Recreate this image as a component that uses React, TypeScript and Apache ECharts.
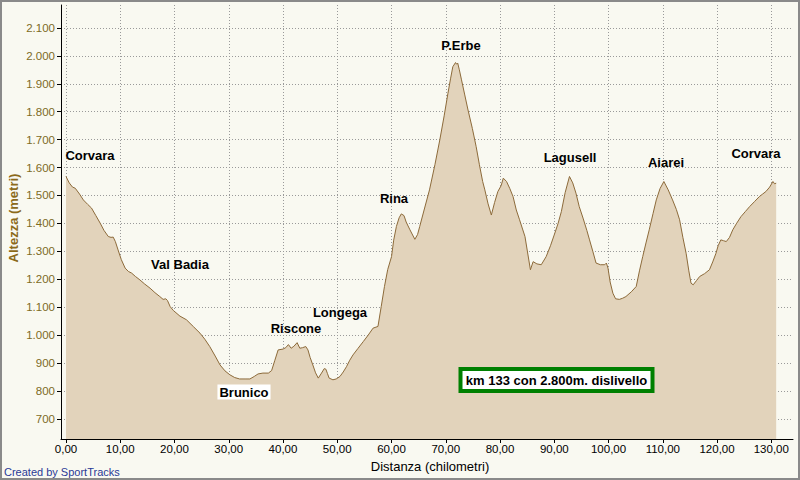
import React, { useEffect, useRef } from "react";
import * as echarts from "echarts";

const distanceKm: number[] = [
  0.0, 0.6, 1.2, 1.7, 2.5, 3.2, 4.0, 4.7, 5.5, 6.3, 7.0, 7.8, 8.3, 8.7, 9.1, 9.6, 10.2, 10.9, 11.5, 12.1,
  12.8, 13.6, 14.5, 15.5, 16.4, 17.3, 17.9, 18.4, 18.7, 19.2, 19.8, 21.0, 22.2, 23.5, 24.7, 25.6, 26.5, 27.5,
  28.4, 29.3, 30.2, 31.1, 32.0, 33.0, 33.9, 34.7, 35.4, 36.3, 37.3, 37.9, 38.5, 39.1, 40.0, 40.5, 41.0, 41.5,
  42.0, 42.6, 43.1, 43.6, 44.2, 44.6, 45.0, 45.5, 46.0, 46.5, 47.1, 47.6, 47.9, 48.2, 48.5, 49.2, 49.8, 50.5,
  51.1, 51.7, 52.3, 52.9, 53.8, 54.8, 55.7, 56.6, 57.5, 58.1, 58.7, 59.3, 60.0, 60.4, 60.9, 61.4, 61.8, 62.3,
  62.7, 63.4, 64.3, 64.8, 65.2, 66.1, 67.0, 68.0, 68.9, 69.7, 70.4, 70.9, 71.3, 71.8, 72.0, 72.2, 72.5, 72.9,
  73.5, 74.1, 74.9, 75.6, 76.2, 76.8, 77.2, 77.8, 78.4, 79.0, 79.6, 80.2, 80.6, 81.2, 81.8, 82.4, 83.0, 83.6,
  84.6, 85.6, 86.1, 86.8, 87.6, 88.5, 89.3, 90.1, 90.7, 91.3, 92.0, 92.8, 93.4, 94.0, 94.6, 95.3, 96.0, 96.5,
  97.1, 97.7, 98.5, 99.3, 99.6, 99.9, 100.3, 100.8, 101.3, 102.0, 102.6, 103.2, 104.2, 105.1, 105.7, 106.3,
  106.9, 107.5, 108.2, 108.8, 109.5, 110.2, 111.0, 111.8, 112.5, 113.1, 113.7, 114.3, 114.8, 115.2, 115.6,
  116.2, 116.8, 117.7, 118.6, 119.2, 119.8, 120.2, 120.7, 121.2, 121.7, 122.3, 122.9, 123.6, 124.4, 125.2,
  126.0, 126.9, 127.8, 128.4, 129.0, 129.7, 130.3, 130.6, 130.9,
];

const altitudeM: number[] = [
  1568, 1545, 1530, 1526, 1505, 1484, 1468, 1455, 1428, 1401, 1375, 1353, 1350, 1351, 1335, 1305, 1270, 1240, 1228, 1222,
  1210, 1198, 1183, 1168, 1152, 1138, 1128, 1130, 1124, 1102, 1088, 1068, 1055, 1030, 1007, 985, 959, 925,
  893, 872, 858, 848, 843, 843, 843, 852, 861, 864, 864, 873, 910, 947, 950, 955, 966, 953,
  960, 973, 953, 955, 959, 947, 920, 893, 865, 846, 864, 880, 878, 862, 846, 840, 843, 852,
  868, 887, 910, 929, 952, 977, 1000, 1025, 1031, 1102, 1174, 1235, 1281, 1340, 1389, 1420, 1434, 1428,
  1405, 1377, 1343, 1360, 1389, 1455, 1520, 1610, 1699, 1785, 1866, 1920, 1961, 1976, 1970, 1974, 1950, 1914,
  1860, 1806, 1740, 1675, 1610, 1550, 1520, 1470, 1430, 1475, 1514, 1535, 1562, 1550, 1525, 1496, 1448, 1413,
  1353, 1234, 1263, 1255, 1252, 1281, 1320, 1365, 1400, 1442, 1510, 1568, 1545, 1508, 1460, 1419, 1375, 1341,
  1300, 1258, 1252, 1252, 1258, 1240, 1190, 1150, 1130, 1128, 1132, 1138, 1155, 1174, 1230, 1281,
  1330, 1377, 1435, 1484, 1525, 1550, 1520, 1484, 1450, 1413, 1350, 1293, 1230, 1186, 1180,
  1195, 1210, 1220, 1234, 1262, 1293, 1320, 1341, 1338, 1335, 1350, 1377, 1400, 1424, 1442,
  1460, 1478, 1496, 1505, 1514, 1530, 1550, 1542, 1544,
];

const xTicks: number[] = [0, 10, 20, 30, 40, 50, 60, 70, 80, 90, 100, 110, 120, 130];
const yTicks: number[] = [700, 800, 900, 1000, 1100, 1200, 1300, 1400, 1500, 1600, 1700, 1800, 1900, 2000, 2100];

const xTitle = "Distanza (chilometri)";
const yTitle = "Altezza (metri)";
const credit = "Created by SportTracks";
const summary = "km 133 con 2.800m. dislivello";

const placeLabels: { text: string; x: number; y: number; bg?: boolean }[] = [
  { text: "Corvara", x: 90, y: 155 },
  { text: "Val Badia", x: 180, y: 264 },
  { text: "Brunico", x: 244, y: 392, bg: true },
  { text: "Riscone", x: 296, y: 328 },
  { text: "Longega", x: 340, y: 312 },
  { text: "Rina", x: 394, y: 198 },
  { text: "P.Erbe", x: 461, y: 45 },
  { text: "Lagusell", x: 570, y: 157 },
  { text: "Aiarei", x: 666, y: 162 },
  { text: "Corvara", x: 756, y: 153 },
];

const FONT = "'Liberation Sans', Arial, sans-serif";

export default function App() {
  const ref = useRef<HTMLDivElement>(null);

  useEffect(() => {
    if (!ref.current) return;
    const chart = echarts.init(ref.current, null, { renderer: "svg" });

    const seriesData = distanceKm.map((d, i) => [d, altitudeM[i]]);

    const gridLine = { show: true, lineStyle: { color: "#9a9a9a", type: [1, 2] as any, width: 1 } };

    const graphics: any[] = [
      {
        type: "rect",
        shape: { x: 1, y: 1, width: 798, height: 478 },
        style: { fill: "none", stroke: "#8a8a8a", lineWidth: 2 },
        silent: true,
        z: 100,
      },
      ...placeLabels.map((p) => ({
        type: "text",
        x: p.x,
        y: p.y,
        z: 50,
        style: {
          text: p.text,
          font: `bold 13px ${FONT}`,
          fill: "#000000",
          align: "center",
          verticalAlign: "middle",
          backgroundColor: p.bg ? "#ffffff" : undefined,
          padding: p.bg ? [1, 2, 1, 2] : undefined,
        },
      })),
      {
        type: "rect",
        z: 50,
        shape: { x: 460.5, y: 369, width: 192, height: 22 },
        style: { fill: "#ffffff", stroke: "#008000", lineWidth: 4 },
      },
      {
        type: "text",
        z: 51,
        x: 556.5,
        y: 380.5,
        style: {
          text: summary,
          font: `bold 13px ${FONT}`,
          fill: "#000000",
          align: "center",
          verticalAlign: "middle",
        },
      },
      {
        type: "text",
        z: 51,
        x: 4,
        y: 472,
        style: {
          text: credit,
          font: `11px ${FONT}`,
          fill: "#2a3a96",
          align: "left",
          verticalAlign: "middle",
        },
      },
      {
        type: "text",
        z: 51,
        x: 430,
        y: 466,
        style: {
          text: xTitle,
          font: `13px ${FONT}`,
          fill: "#000000",
          align: "center",
          verticalAlign: "middle",
        },
      },
      {
        type: "text",
        z: 51,
        x: 13,
        y: 218,
        rotation: Math.PI / 2,
        style: {
          text: yTitle,
          font: `bold 13px ${FONT}`,
          fill: "#8b6a1a",
          align: "center",
          verticalAlign: "middle",
        },
      },
    ];

    chart.setOption({
      animation: false,
      backgroundColor: "#f9f9f1",
      grid: { left: 61, right: 7, top: 5, bottom: 41, containLabel: false },
      xAxis: {
        type: "value",
        min: -0.92,
        max: 134,
        axisLine: { show: true, onZero: false, lineStyle: { color: "#000000", width: 1 } },
        axisTick: { show: true, length: 4, inside: false, customValues: xTicks, lineStyle: { color: "#000000" } },
        axisLabel: {
          show: true,
          customValues: xTicks,
          margin: 4,
          color: "#000000",
          fontSize: 11.5,
          fontFamily: FONT,
          formatter: (v: number) => v.toFixed(2).replace(".", ","),
        },
        splitLine: gridLine,
      },
      yAxis: {
        type: "value",
        min: 628,
        max: 2182,
        axisLine: { show: true, onZero: false, lineStyle: { color: "#000000", width: 1 } },
        axisTick: { show: true, length: 4, inside: false, customValues: yTicks, lineStyle: { color: "#000000" } },
        axisLabel: {
          show: true,
          customValues: yTicks,
          margin: 6,
          color: "#7d6b1f",
          fontSize: 11.5,
          fontFamily: FONT,
          formatter: (v: number) => (v >= 1000 ? Math.floor(v / 1000) + "." + String(v % 1000).padStart(3, "0") : String(v)),
        },
        splitLine: gridLine,
      },
      series: [
        {
          type: "line",
          data: seriesData,
          symbol: "none",
          smooth: false,
          lineStyle: { color: "#8c6a3a", width: 1 },
          areaStyle: { color: "#e2d3bb", opacity: 1, origin: "start" },
          z: 2,
        },
      ],
      graphic: graphics,
    });

    return () => chart.dispose();
  }, []);

  return (
    <div
      ref={ref}
      style={{ position: "fixed", left: 0, top: 0, width: 800, height: 480 }}
    />
  );
}
